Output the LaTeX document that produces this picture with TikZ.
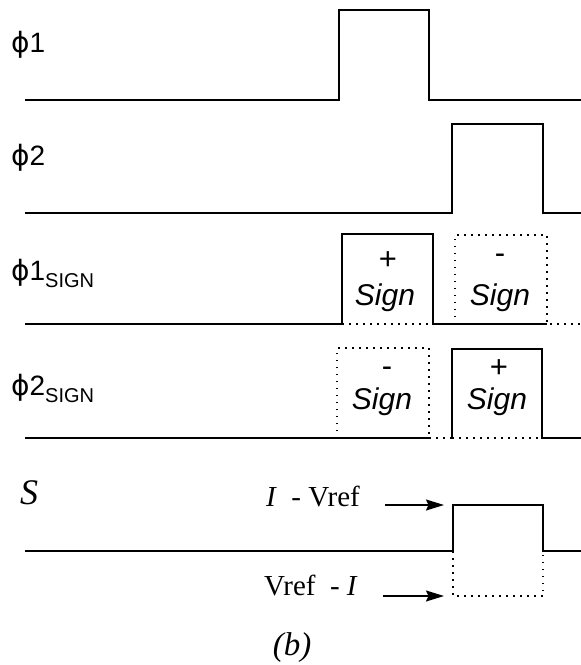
\documentclass[tikz,border=0pt]{standalone}
\usepackage{fontspec}
\setmainfont{Liberation Sans}
\newfontfamily\timesf{Liberation Serif}
\newfontfamily\phif{DejaVu Sans}
\newcommand{\myphi}{{\phif ϕ}}
\usetikzlibrary{arrows.meta}
\begin{document}
\begin{tikzpicture}[x=1pt,y=-1pt,
  sig/.style={line width=1.5pt, line join=miter},
  dots/.style={line width=1.5pt, dash pattern=on 1.5pt off 5.5pt},
  lbl/.style={anchor=base west, inner sep=0pt, font=\fontsize{28}{28}\selectfont},
  sgn/.style={anchor=base, inner sep=0pt, font=\fontsize{30}{30}\selectfont\itshape},
  pm/.style={inner sep=0pt, font=\fontsize{31}{31}\selectfont},
  ser/.style={anchor=base west, inner sep=0pt, font=\timesf\fontsize{29}{29}\selectfont},
  arr/.style={line width=1.5pt, -{Stealth[length=18pt,width=11pt,inset=2.5pt]}}]
\useasboundingbox (0,0) rectangle (581,665);

% labels
\node[lbl] (l1) at (11,52) {\myphi1};
\node[lbl] (l2) at (11,165) {\myphi2};
\node[lbl] (l3) at (11,280) {\myphi1\raisebox{-7pt}{\fontsize{20}{20}\selectfont SIGN}};
\node[lbl] (l4) at (11,395) {\myphi2\raisebox{-7pt}{\fontsize{20}{20}\selectfont SIGN}};
\node[ser, font=\timesf\itshape\fontsize{36}{36}\selectfont] (ls) at (20,504) {S};

% phi1
\draw[sig] (25,100) -- (339,100) -- (339,10) -- (429,10) -- (429,100) -- (581,100);
% phi2
\draw[sig] (25,213) -- (452,213) -- (452,124) -- (543,124) -- (543,213) -- (581,213);
% phi1 sign
\draw[sig] (25,324) -- (342,324) -- (342,234) -- (433,234) -- (433,324) -- (547,324);
\draw[dots] (342,324) -- (433,324);
\draw[dots] (455,324) -- (455,235) -- (547,235) -- (547,324) -- (581,324);
\node[pm] (p1) at (388,261) {+};
\node[sgn] (s1) at (385,305) {Sign};
\node[pm] (m1) at (500,259) {-};
\node[sgn] (s2) at (500,305) {Sign};
% phi2 sign
\draw[sig] (25,438) -- (429,438);
\draw[dots] (429,438) -- (452,438);
\draw[dots] (337,438) -- (337,348) -- (429,348) -- (429,438);
\draw[sig] (452,438) -- (452,349) -- (542,349) -- (542,438) -- (581,438);
\draw[dots] (452,438) -- (542,438);
\node[pm] (m2) at (387,372) {-};
\node[sgn] (s3) at (382,409) {Sign};
\node[pm] (p2) at (499,369) {+};
\node[sgn] (s4) at (497,409) {Sign};
% S
\draw[sig] (25,551) -- (453,551) -- (453,505) -- (543,505) -- (543,551) -- (581,551);
\draw[dots] (453,551) -- (453,596) -- (543,596) -- (543,551);
\node[ser] (t1) at (266,506) {\textit{I}\ \ - Vref};
\node[ser] (t2) at (264,595) {Vref\ \ - \textit{I}};
\coordinate (a1s) at (385,505);
\coordinate (a1e) at (444,505);
\coordinate (a2s) at (383,596);
\coordinate (a2e) at (444,596);
\draw[arr] (a1s) -- (a1e);
\draw[arr] (a2s) -- (a2e);
\node[ser, anchor=base, font=\timesf\itshape\fontsize{33}{33}\selectfont] (cap) at (292,655) {(b)};
\end{tikzpicture}
\end{document}
